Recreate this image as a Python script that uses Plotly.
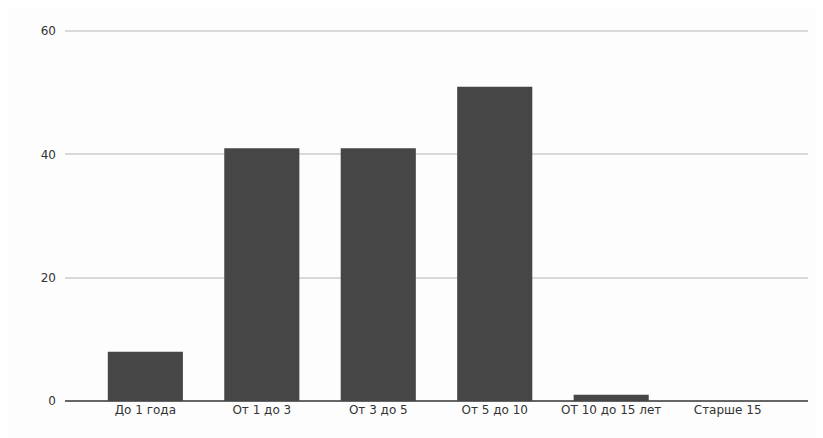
import plotly.graph_objects as go

categories = ["До 1 года", "От 1 до 3", "От 3 до 5", "От 5 до 10", "ОТ 10 до 15 лет", "Старше 15"]
values = [8, 41, 41, 51, 1, 0]
y_ticks = [0, 20, 40, 60]

fig = go.Figure(go.Bar(x=categories, y=values, marker=dict(color="#464646", line=dict(width=0)), width=0.645))

fig.update_layout(
    width=823, height=438,
    margin=dict(l=57, r=23, t=22, b=45),
    paper_bgcolor="#fdfdfd", plot_bgcolor="#fdfdfd",
    font=dict(family="DejaVu Sans, sans-serif", size=12, color="#333333"),
    showlegend=False,
)
fig.update_xaxes(range=[-0.69, 5.69], showgrid=False, ticks="", showline=False, zeroline=False,
                 tickfont=dict(size=12, color="#333333"))
fig.update_yaxes(range=[0, 60.2], tickvals=y_ticks, showgrid=True, gridcolor="#d9d9d9", gridwidth=1.5,
                 zeroline=True, zerolinecolor="#666666", zerolinewidth=1.5, ticks="", ticklabelstandoff=8,
                 tickfont=dict(size=12, color="#333333"))

fig.write_html("out.html")
